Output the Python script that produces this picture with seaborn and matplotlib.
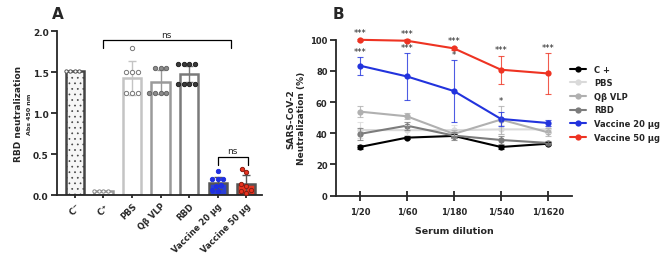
import numpy as np
import pandas as pd
import matplotlib.pyplot as plt
import seaborn as sns

# ---- panel A data ----
groups = ['C$^{-}$', 'C$^{+}$', 'PBS', 'Qβ VLP', 'RBD', 'Vaccine 20 µg', 'Vaccine 50 µg']
bar_means = [1.51, 0.05, 1.43, 1.38, 1.48, 0.15, 0.13]
bar_sd = [0.0, 0.0, 0.21, 0.15, 0.10, 0.07, 0.11]
reps = {
    'C$^{-}$': [1.51, 1.51, 1.51, 1.51],
    'C$^{+}$': [0.05, 0.05, 0.05, 0.05],
    'PBS': [1.80, 1.50, 1.50, 1.50, 1.25, 1.25, 1.25],
    'Qβ VLP': [1.55, 1.55, 1.55, 1.25, 1.25, 1.25, 1.25],
    'RBD': [1.60, 1.60, 1.60, 1.60, 1.35, 1.35, 1.35, 1.35],
    'Vaccine 20 µg': [0.30, 0.20, 0.20, 0.20, 0.12, 0.11, 0.06, 0.05],
    'Vaccine 50 µg': [0.32, 0.28, 0.13, 0.11, 0.06, 0.05, 0.02],
}
bar_fill = ['#f6f6f6', 'white', 'white', 'white', 'white', '#2b3fd6', '#e8331f']
bar_edge = ['#444444', '#999999', '#c4c4c4', '#9a9a9a', '#7a7a7a', '#555555', '#555555']
dot_face = ['white', 'white', 'white', '#8c8c8c', '#3a3a3a', '#2030e0', '#e8331f']
dot_edge = ['#555555', '#888888', '#777777', '#666666', '#222222', '#2030e0', '#8a1a10']

# ---- panel B data ----
dilutions = ['1/20', '1/60', '1/180', '1/540', '1/1620']
series = ['C +', 'PBS', 'Qβ VLP', 'RBD', 'Vaccine 20 µg', 'Vaccine 50 µg']
neut = {
    'C +': [31.2, 37.2, 38.3, 31.2, 33.3],
    'PBS': [42.1, 42.0, 42.0, 42.5, 42.5],
    'Qβ VLP': [53.9, 50.9, 39.6, 48.8, 40.6],
    'RBD': [39.6, 44.9, 38.5, 35.7, 33.8],
    'Vaccine 20 µg': [83.4, 76.5, 67.1, 49.2, 46.6],
    'Vaccine 50 µg': [100.0, 99.4, 94.5, 80.8, 78.4],
}
neut_sd = {
    'C +': [1.0, 1.0, 1.5, 1.0, 1.0],
    'PBS': [5.0, 3.0, 3.0, 3.0, 2.0],
    'Qβ VLP': [3.5, 2.0, 2.5, 9.0, 2.5],
    'RBD': [4.0, 2.5, 2.5, 2.5, 1.0],
    'Vaccine 20 µg': [5.8, 15.0, 19.8, 4.3, 2.0],
    'Vaccine 50 µg': [0.5, 0.8, 1.0, 9.1, 13.0],
}
line_colors = ['black', '#dadada', '#b0b0b0', '#7c7c7c', '#2233dd', '#ee3322']
stars_red = ['***', '***', '***', '***', '***']
stars_blue = ['***', '***', '*', '*', '']

sns.set_style('ticks')
plt.rcParams['font.family'] = ['DejaVu Sans']
plt.rcParams['font.weight'] = 'bold'
plt.rcParams['mathtext.default'] = 'bf'
plt.rcParams['hatch.color'] = '#9a9a9a'
plt.rcParams['hatch.linewidth'] = 0.5

fig = plt.figure(figsize=(6.69, 2.55), dpi=100)
axA = fig.add_axes([0.085, 0.231, 0.307, 0.643])
axB = fig.add_axes([0.502, 0.229, 0.353, 0.611])

# ---------- A ----------
dfA = pd.DataFrame({'group': groups, 'value': bar_means})
sns.barplot(data=dfA, x='group', y='value', order=groups, ax=axA,
            width=0.64, errorbar=None)
for i, p in enumerate(axA.patches):
    p.set_facecolor(bar_fill[i])
    p.set_edgecolor(bar_edge[i])
    p.set_linewidth(1.8)
    if i == 0:
        p.set_hatch('...')
for i in range(len(groups)):
    if bar_sd[i] > 0:
        axA.errorbar(i, bar_means[i], yerr=bar_sd[i], fmt='none',
                     ecolor=bar_edge[i], elinewidth=1.0, capsize=3, capthick=1.0, zorder=4)

dots = pd.DataFrame([(g, v) for g in groups for v in reps[g]], columns=['group', 'value'])
for i, g in enumerate(groups):
    sub = dots[dots['group'] == g]
    sns.swarmplot(data=sub, x='group', y='value', order=groups, ax=axA,
                  size=2.4 if i < 2 else 3.1,
                  color=dot_face[i], edgecolor=dot_edge[i], linewidth=0.7, zorder=5)

axA.set_xlim(-0.63, 6.56)
axA.set_ylim(0, 2.0)
axA.set_yticks([0, 0.5, 1.0, 1.5, 2.0])
axA.set_yticklabels(['0.0', '0.5', '1.0', '1.5', '2.0'], fontsize=6.5, fontweight='bold')
axA.set_xticks(range(len(groups)))
axA.set_xticklabels(groups, rotation=45, ha='right', rotation_mode='anchor',
                    fontsize=6, fontweight='bold')
axA.set_xlabel('')
axA.set_ylabel('')
axA.text(-0.185, 0.5, 'RBD neutralization', transform=axA.transAxes, rotation=90,
         ha='center', va='center', fontsize=6.5, fontweight='bold')
axA.text(-0.135, 0.5, 'Abs 450 nm', transform=axA.transAxes, rotation=90,
         ha='center', va='center', fontsize=4.5, fontweight='bold')
for s in ['left', 'bottom']:
    axA.spines[s].set_linewidth(1.3)
axA.tick_params(width=1.3, length=4, pad=2)
axA.tick_params(axis='x', length=2)
sns.despine(ax=axA)

# brackets
axA.plot([1, 1, 5.45, 5.45], [1.79, 1.89, 1.89, 1.79], color='black', lw=0.9, clip_on=False)
axA.text(3.2, 1.91, 'ns', ha='center', va='bottom', fontsize=6.5, fontweight='normal')
axA.plot([5, 5, 6.05, 6.05], [0.37, 0.47, 0.47, 0.37], color='black', lw=0.9, clip_on=False)
axA.text(5.5, 0.49, 'ns', ha='center', va='bottom', fontsize=6.5, fontweight='normal')
fig.text(0.078, 0.945, 'A', fontsize=11, fontweight='heavy', ha='left', va='center')

# ---------- B ----------
dfB = pd.DataFrame([(s, j, neut[s][j]) for s in series for j in range(len(dilutions))],
                   columns=['group', 'dil', 'neut'])
sns.lineplot(data=dfB, x='dil', y='neut', hue='group', hue_order=series,
             palette=line_colors, marker='o', markersize=4.5, markeredgewidth=0,
             linewidth=1.5, ax=axB, clip_on=False)
for k, s in enumerate(series):
    axB.errorbar(range(len(dilutions)), neut[s], yerr=neut_sd[s], fmt='none',
                 ecolor=line_colors[k], elinewidth=0.8, capsize=2.5, capthick=0.8,
                 alpha=0.8, clip_on=False)

for j in range(len(dilutions)):
    top = neut['Vaccine 50 µg'][j] + neut_sd['Vaccine 50 µg'][j]
    axB.text(j, top + 1.0, stars_red[j], ha='center', va='bottom', fontsize=6,
             fontweight='normal')
    if stars_blue[j]:
        topb = neut['Vaccine 20 µg'][j] + neut_sd['Vaccine 20 µg'][j]
        if j == 3:
            topb = neut['Qβ VLP'][j] + neut_sd['Qβ VLP'][j]
        axB.text(j, topb + 0.5, stars_blue[j], ha='center', va='bottom', fontsize=6,
                 fontweight='normal')

axB.set_xlim(-0.51, 4.51)
axB.set_ylim(0, 100)
axB.set_xticks(range(len(dilutions)))
axB.set_xticklabels(dilutions, fontsize=6, fontweight='bold')
axB.set_yticks([0, 20, 40, 60, 80, 100])
axB.set_yticklabels(['0', '20', '40', '60', '80', '100'], fontsize=6, fontweight='bold')
axB.set_xlabel('Serum dilution', fontsize=6.8, fontweight='bold', labelpad=8)
axB.set_ylabel('SARS-CoV-2\nNeutralization (%)', fontsize=6.5, fontweight='bold', labelpad=3)
for s in ['left', 'bottom']:
    axB.spines[s].set_linewidth(1.3)
axB.tick_params(axis='y', width=1.3, length=4, pad=2)
axB.tick_params(axis='x', width=1.3, length=7, direction='inout', pad=4)
sns.despine(ax=axB)
leg = axB.legend(loc='upper left', bbox_to_anchor=(0.99, 0.84), frameon=False,
                 fontsize=6, handlelength=2.0, labelspacing=0.55, handletextpad=0.9,
                 borderaxespad=0, borderpad=0)
for t in leg.get_texts():
    t.set_fontweight('bold')
fig.text(0.497, 0.945, 'B', fontsize=11, fontweight='heavy', ha='left', va='center')

fig.savefig('out.png', dpi=100)
